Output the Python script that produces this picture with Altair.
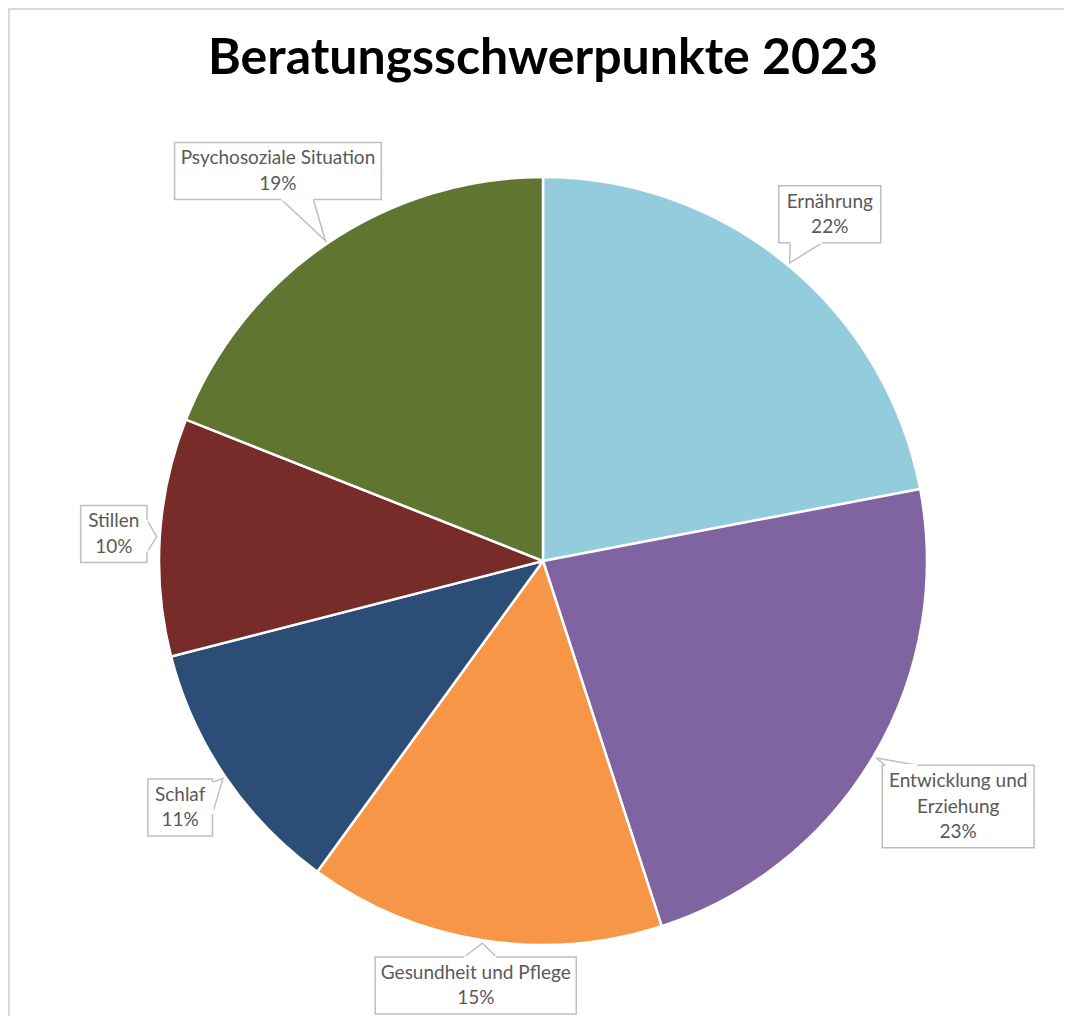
import math
import textwrap
import altair as alt
import pandas as pd

# ---- data ----
categories = ["Ernährung", "Entwicklung und Erziehung", "Gesundheit und Pflege",
              "Schlaf", "Stillen", "Psychosoziale Situation"]
shares = [22, 23, 15, 11, 10, 19]
colors = ["#93CDDD", "#8064A2", "#F79646", "#2C4D75", "#772C2A", "#5F7530"]
title_text = "Beratungsschwerpunkte 2023"

# ---- layout / style ----
W, H = 1056, 1008
CX, CY = 535, 553
R = 384
FONT = "Lato"
LABEL_SIZE = 19
LINE_H = 25.5
GAP = 12
PAD_X = 8
PAD_Y = 3
BASE_HALF = 16
BOX_STROKE = "#BFBFBF"
TEXT_COLOR = "#595959"

CW = {
    "a": .49, "b": .56, "c": .45, "d": .56, "e": .52, "f": .32, "g": .50, "h": .56,
    "i": .24, "j": .24, "k": .50, "l": .24, "m": .84, "n": .56, "o": .56, "p": .56,
    "q": .56, "r": .37, "s": .42, "t": .35, "u": .56, "v": .50, "w": .77, "x": .49,
    "y": .50, "z": .45, "ä": .49, "E": .55, "G": .70, "P": .59, "S": .50,
    "%": .79, " ": .19,
}


def text_width(s):
    return sum(CW.get(c, .58) for c in s) * LABEL_SIZE


def box_distance(dx, dy, hw, hh, target):
    """Smallest distance along (dx, dy) so that the box clears a circle of radius target."""
    lo, hi = 0.0, target + 2 * (hw + hh)
    for _ in range(60):
        m = (lo + hi) / 2
        ex = max(abs(m * dx) - hw, 0.0)
        ey = max(abs(m * dy) - hh, 0.0)
        if math.hypot(ex, ey) < target:
            lo = m
        else:
            hi = m
    return hi


total = sum(shares)
pie_rows, box_rows, text_rows, wedge_rows, base_rows = [], [], [], [], []
cum = 0.0
for i, (cat, val) in enumerate(zip(categories, shares)):
    mid = (cum + val / 2) / total * 2 * math.pi
    cum += val
    pie_rows.append({"category": cat, "share": val, "idx": i})

    lines = textwrap.wrap(cat, 23) + [f"{val}%"]
    hw = max(text_width(l) for l in lines) / 2 + PAD_X
    hh = len(lines) * LINE_H / 2 + PAD_Y
    dx, dy = math.sin(mid), -math.cos(mid)
    d = box_distance(dx, dy, hw, hh, R + GAP)
    bx, by = CX + d * dx, CY + d * dy
    tx, ty = CX + (R + 3) * dx, CY + (R + 3) * dy

    box_rows.append({"x": bx - hw, "x2": bx + hw, "y": by - hh, "y2": by + hh})
    text_rows.append({"x": bx, "y": by - (len(lines) - 1) * LINE_H / 2,
                      "label": "\n".join(lines)})

    vx, vy = tx - bx, ty - by
    if abs(vx) / hw > abs(vy) / hh:
        ex = bx + math.copysign(hw, vx)
        ey = by + vy * hw / abs(vx)
        lo, hi = by - hh + 3, by + hh - 3
        half = min(BASE_HALF, (hi - lo) / 2)
        y1 = min(max(ey - half, lo), hi - 2 * half)
        p1, p2 = (ex, y1), (ex, y1 + 2 * half)
    else:
        ey = by + math.copysign(hh, vy)
        ex = bx + vx * hh / abs(vy)
        lo, hi = bx - hw + 3, bx + hw - 3
        half = min(BASE_HALF, (hi - lo) / 2)
        x1 = min(max(ex - half, lo), hi - 2 * half)
        p1, p2 = (x1, ey), (x1 + 2 * half, ey)
    for k, (px, py) in enumerate([p1, (tx, ty), p2]):
        wedge_rows.append({"cat": cat, "k": k, "x": px, "y": py})
    base_rows.append({"x": p1[0], "y": p1[1], "x2": p2[0], "y2": p2[1]})

xs = alt.Scale(domain=[0, W], nice=False, zero=False)
ys = alt.Scale(domain=[0, H], nice=False, zero=False, reverse=True)


def X(f="x"):
    return alt.X(f"{f}:Q", scale=xs, axis=None)


def Y(f="y"):
    return alt.Y(f"{f}:Q", scale=ys, axis=None)


pie = alt.Chart(pd.DataFrame(pie_rows)).mark_arc(
    radius=R, stroke="white", strokeWidth=2.5
).encode(
    theta=alt.Theta("share:Q", stack=True),
    order=alt.Order("idx:Q"),
    color=alt.Color("category:N", scale=alt.Scale(domain=categories, range=colors), legend=None),
    x=alt.X(datum=CX, type="quantitative", scale=xs, axis=None),
    y=alt.Y(datum=CY, type="quantitative", scale=ys, axis=None),
)

boxes = alt.Chart(pd.DataFrame(box_rows)).mark_rect(
    fill="white", stroke=BOX_STROKE, strokeWidth=1.5
).encode(x=X(), x2="x2:Q", y=Y(), y2="y2:Q")

bases = alt.Chart(pd.DataFrame(base_rows)).mark_rule(
    color="white", strokeWidth=2.5
).encode(x=X(), x2="x2:Q", y=Y(), y2="y2:Q")

wedges = alt.Chart(pd.DataFrame(wedge_rows)).mark_line(
    color=BOX_STROKE, strokeWidth=1.5, fill="white"
).encode(x=X(), y=Y(), detail="cat:N", order="k:Q")

labels = alt.Chart(pd.DataFrame(text_rows)).mark_text(
    font=FONT, fontSize=LABEL_SIZE, color=TEXT_COLOR, align="center",
    baseline="middle", lineBreak="\n", lineHeight=LINE_H
).encode(x=X(), y=Y(), text="label:N")

title = alt.Chart(pd.DataFrame({"t": [title_text]})).mark_text(
    font=FONT, fontSize=50, fontWeight="bold", color="black",
    align="center", baseline="alphabetic"
).encode(x=alt.value(CX), y=alt.value(66), text="t:N")

frame_top = alt.Chart(pd.DataFrame({"a": [0]})).mark_rule(
    color="#D9D9D9", strokeWidth=2
).encode(x=alt.value(0), x2=alt.value(W), y=alt.value(1))
frame_left = alt.Chart(pd.DataFrame({"a": [0]})).mark_rule(
    color="#D9D9D9", strokeWidth=2
).encode(x=alt.value(1), y=alt.value(0), y2=alt.value(H))

chart = alt.layer(
    frame_top, frame_left, pie, wedges, boxes, bases, labels, title
).properties(
    width=W, height=H, padding=0,
    autosize=alt.AutoSizeParams(type="none"),
    background="white",
).configure_view(stroke="transparent")

chart.save("out.html", embed_options={"renderer": "svg", "actions": False})
